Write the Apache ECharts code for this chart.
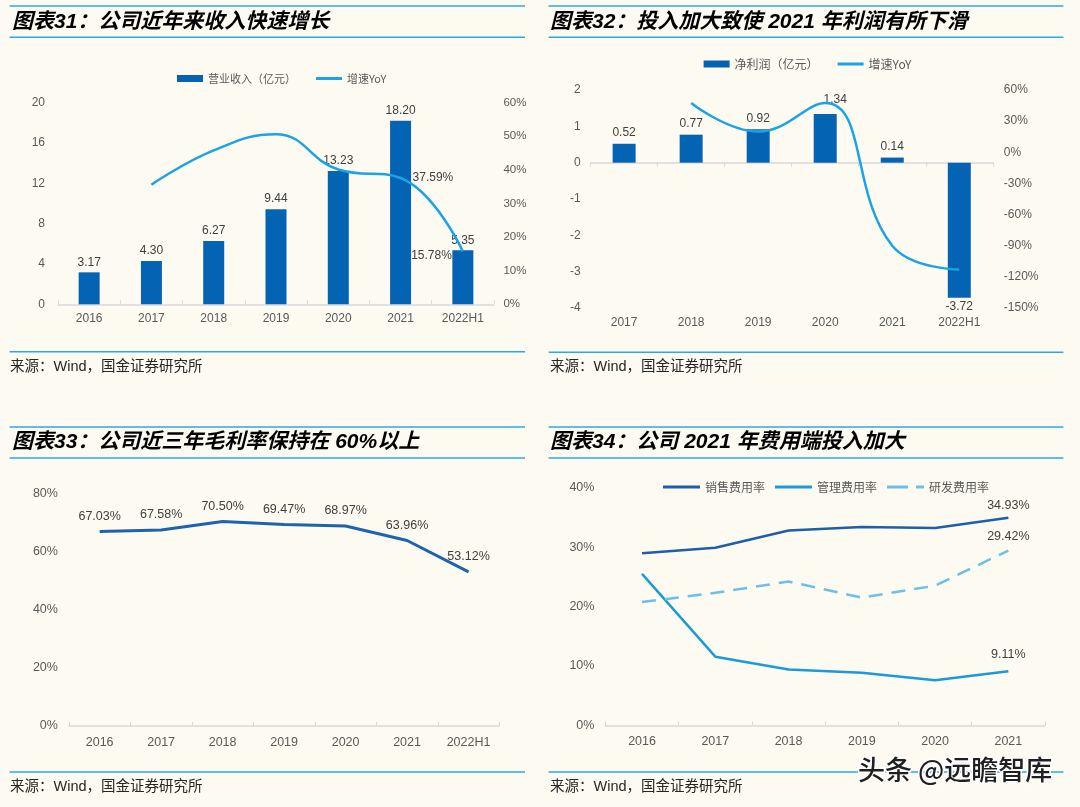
<!DOCTYPE html>
<html><head><meta charset="utf-8">
<script src="https://cdn.jsdelivr.net/npm/echarts/dist/echarts.min.js"></script>
<style>html,body{margin:0;padding:0;background:#FDFAF1}#c{width:1080px;height:807px}</style>
</head><body><div id="c"></div>
<script>
// ---------- data ----------
const revCats = ['2016','2017','2018','2019','2020','2021','2022H1'];
const revenue = [3.17, 4.30, 6.27, 9.44, 13.23, 18.20, 5.35];
const revYoy = [null, 35.6, 45.8, 50.6, 40.1, 37.59, 15.78];

const profitCats = ['2017','2018','2019','2020','2021','2022H1'];
const profit = [0.52, 0.77, 0.92, 1.34, 0.14, -3.72];
const profitYoy = [null, 47.5, 20, 47.5, -90, -113];

const grossCats = ['2016','2017','2018','2019','2020','2021','2022H1'];
const grossMargin = [67.03, 67.58, 70.50, 69.47, 68.97, 63.96, 53.12];

const costCats = ['2016','2017','2018','2019','2020','2021'];
const salesRate = [28.95, 29.9, 32.8, 33.4, 33.2, 34.93];
const adminRate = [25.5, 11.55, 9.4, 8.85, 7.6, 9.11];
const rdRate = [20.75, 22.3, 24.2, 21.5, 23.5, 29.42];

const titleTexts = ['图表31：公司近年来收入快速增长', '图表32：投入加大致使 2021 年利润有所下滑',
                    '图表33：公司近三年毛利率保持在 60%以上', '图表34：公司 2021 年费用端投入加大'];
const sourceText = '来源：Wind，国金证券研究所';
const watermark = '头条 @远瞻智库';

// ---------- styles ----------
const BG = '#FDFAF1';
const RULE = '#29A9E6';
const BAR = '#0563B3';
const LIGHT = '#1AA3E6';
const NUMF = '"Liberation Sans", Arial, "Noto Sans CJK SC", sans-serif';
const axisGray = '#595959';
const lblGray = '#404040';

function xAx(grid, data, size, margin, extra) {
  return Object.assign({
    type: 'category', gridIndex: grid, data: data,
    axisLine: { show: true, lineStyle: { color: '#D9D9D9', width: 1.5 } },
    axisTick: { show: true, inside: true, length: 4, lineStyle: { color: '#D9D9D9' } },
    axisLabel: { color: axisGray, fontSize: size, fontFamily: NUMF, margin: margin, interval: 0 },
    splitLine: { show: false }
  }, extra || {});
}
function yAx(grid, min, max, interval, size, margin, fmt, pos) {
  return {
    type: 'value', gridIndex: grid, min: min, max: max, interval: interval, position: pos || 'left',
    axisLine: { show: false }, axisTick: { show: false }, splitLine: { show: false },
    axisLabel: { color: axisGray, fontSize: size, fontFamily: NUMF, margin: margin, formatter: fmt || '{value}' }
  };
}
const barIcon = 'path://M0,0H26V7H0Z';
const lineIcon = 'path://M0,0L0.01,0L0,0.01ZM0,2H26V5H0ZM0,7L0.01,7L0,6.99Z';
const solidIcon = 'path://M0,0H37V3H0Z';
const dashIcon = 'path://M0,0H21V3H0ZM29,0H37V3H29Z';

const chart = echarts.init(document.getElementById('c'), null, { renderer: 'canvas' });

const rules = [
  [9.6, 6, 525, 6], [9.6, 37.3, 525, 37.3], [9.6, 351.7, 525, 351.7],
  [548.6, 6, 1063.4, 6], [548.6, 37.3, 1063.4, 37.3], [548.6, 352.3, 1063.4, 352.3],
  [9.6, 427, 525, 427], [9.6, 458, 525, 458], [9.6, 772, 525, 772],
  [548.6, 427, 1063.4, 427], [548.6, 458, 1063.4, 458], [548.6, 772, 1063.4, 772]
];
const graphics = rules.map(r => ({ type: 'line', silent: true, shape: { x1: r[0], y1: r[1], x2: r[2], y2: r[3] }, style: { stroke: RULE, lineWidth: 1.5 } }));
const titlePos = [[12, 22], [550, 22], [12, 442.5], [550, 442.5]];
titleTexts.forEach((t, i) => graphics.push({ type: 'text', x: titlePos[i][0], y: titlePos[i][1], silent: true,
  style: { text: t, fill: '#000', font: 'italic bold 21px "Liberation Sans", "Noto Sans CJK SC", sans-serif', verticalAlign: 'middle', align: 'left' } }));
[[10, 367], [550, 367], [10, 787], [550, 787]].forEach(p => graphics.push({ type: 'text', x: p[0], y: p[1], silent: true,
  style: { text: sourceText, fill: '#262626', font: '14.5px "Liberation Sans", "Noto Sans CJK SC", sans-serif', verticalAlign: 'middle' } }));
graphics.push({ type: 'text', x: 858, y: 770, silent: true, z: 100,
  style: { text: watermark, fill: '#1f1f1f', stroke: '#ffffff', lineWidth: 3, strokeFirst: true,
    font: '500 27px "Noto Sans CJK SC", sans-serif', verticalAlign: 'middle' } });

const numLabel = (size) => ({ color: lblGray, fontSize: size, fontFamily: NUMF });

const option = {
  backgroundColor: BG,
  animation: false,
  grid: [
    { left: 58, top: 102.7, width: 436, height: 201.6, outerBoundsMode: 'none', containLabel: false },
    { left: 590.6, top: 90, width: 402.2, height: 218, outerBoundsMode: 'none', containLabel: false },
    { left: 68.9, top: 494, width: 430.4, height: 232, outerBoundsMode: 'none', containLabel: false },
    { left: 605.4, top: 487.7, width: 439.6, height: 237.6, outerBoundsMode: 'none', containLabel: false }
  ],
  legend: [
    { left: 177, top: 73, padding: 0, itemWidth: 26, itemHeight: 7, itemGap: 20, selectedMode: false,
      textStyle: { fontSize: 11, color: axisGray, fontFamily: '"Noto Sans CJK SC", sans-serif' },
      data: [{ name: '营业收入（亿元）', icon: barIcon }, { name: '增速YoY', icon: lineIcon }] },
    { left: 703.6, top: 58, padding: 0, itemWidth: 26, itemHeight: 7, itemGap: 19, selectedMode: false,
      textStyle: { fontSize: 12, color: axisGray, fontFamily: '"Noto Sans CJK SC", sans-serif' },
      data: [{ name: '净利润（亿元）', icon: barIcon }, { name: '增速YoY', icon: lineIcon }] },
    { left: 663, top: 481, padding: 0, itemWidth: 37, itemHeight: 3, itemGap: 10, selectedMode: false,
      textStyle: { fontSize: 12, color: axisGray, fontFamily: '"Noto Sans CJK SC", sans-serif' },
      data: [{ name: '销售费用率', icon: solidIcon }, { name: '管理费用率', icon: solidIcon }, { name: '研发费用率', icon: dashIcon }] }
  ],
  xAxis: [
    xAx(0, revCats, 12, 8),
    xAx(1, profitCats, 12, 9, { axisLine: { show: false, onZero: false }, axisTick: { show: false } }),
    xAx(1, profitCats, 12, 9, { position: 'top', axisLabel: { show: false },
      axisLine: { show: true, onZero: true, onZeroAxisIndex: 2, lineStyle: { color: '#D9D9D9', width: 1.5 } } }),
    xAx(2, grossCats, 12.5, 10),
    xAx(3, costCats, 12.5, 10)
  ],
  yAxis: [
    yAx(0, 0, 20, 4, 12, 13),
    yAx(0, 0, 60, 10, 11.5, 9.4, '{value}%', 'right'),
    yAx(1, -4, 2, 1, 12, 10),
    yAx(1, -150, 60, 30, 12, 11, '{value}%', 'right'),
    yAx(2, 0, 80, 20, 12.5, 11, '{value}%'),
    yAx(3, 0, 40, 10, 12.5, 11, '{value}%')
  ],
  series: [
    { type: 'bar', name: '营业收入（亿元）', xAxisIndex: 0, yAxisIndex: 0, barWidth: 21,
      itemStyle: { color: BAR }, data: revenue,
      label: Object.assign({ show: true, position: 'top', distance: 4, formatter: p => p.value.toFixed(2) }, numLabel(12)) },
    { type: 'line', name: '增速YoY', xAxisIndex: 0, yAxisIndex: 1, smooth: 0.45, symbol: 'circle', symbolSize: 0.01, showSymbol: true,
      lineStyle: { color: LIGHT, width: 2.5 }, itemStyle: { color: LIGHT },
      label: Object.assign({ show: false, formatter: p => p.value.toFixed(2) + '%' }, numLabel(12)),
      data: revYoy.map((v, i) => i === 5 ? { value: v, label: { show: true, position: 'right', distance: 12 } }
                                : i === 6 ? { value: v, label: { show: true, position: 'left', distance: 11, offset: [0, 4] } } : v) },
    { type: 'bar', name: '净利润（亿元）', xAxisIndex: 1, yAxisIndex: 2, barWidth: 23,
      itemStyle: { color: BAR },
      label: Object.assign({ show: true, position: 'top', distance: 5, formatter: p => p.value.toFixed(2) }, numLabel(12)),
      data: profit.map((v, i) => i === 3 ? { value: v, label: { offset: [10, -3] } }
                                : v < 0 ? { value: v, label: { position: 'bottom', distance: 3 } } : v) },
    { type: 'line', name: '增速YoY', xAxisIndex: 1, yAxisIndex: 3, smooth: 0.45, symbol: 'none',
      lineStyle: { color: LIGHT, width: 2.5 }, itemStyle: { color: LIGHT }, data: profitYoy },
    { type: 'line', name: '毛利率', xAxisIndex: 3, yAxisIndex: 4, symbol: 'circle', symbolSize: 0.01, showSymbol: true,
      lineStyle: { color: '#1E64AC', width: 3 }, itemStyle: { color: '#1E64AC' },
      label: Object.assign({ show: true, position: 'top', distance: 9, formatter: p => p.value.toFixed(2) + '%' }, numLabel(12.5)),
      data: grossMargin },
    { type: 'line', name: '销售费用率', xAxisIndex: 4, yAxisIndex: 5, symbol: 'circle', symbolSize: 0.01, showSymbol: true,
      lineStyle: { color: '#1D5FA8', width: 2.5 }, itemStyle: { color: '#1D5FA8' },
      label: Object.assign({ show: false, formatter: p => p.value.toFixed(2) + '%' }, numLabel(12.5)),
      data: salesRate.map((v, i) => i === salesRate.length - 1 ? { value: v, label: { show: true, position: 'top', distance: 6 } } : v) },
    { type: 'line', name: '管理费用率', xAxisIndex: 4, yAxisIndex: 5, symbol: 'circle', symbolSize: 0.01, showSymbol: true,
      lineStyle: { color: '#1A9BD7', width: 2.5 }, itemStyle: { color: '#1A9BD7' },
      label: Object.assign({ show: false, formatter: p => p.value.toFixed(2) + '%' }, numLabel(12.5)),
      data: adminRate.map((v, i) => i === adminRate.length - 1 ? { value: v, label: { show: true, position: 'top', distance: 10 } } : v) },
    { type: 'line', name: '研发费用率', xAxisIndex: 4, yAxisIndex: 5, symbol: 'circle', symbolSize: 0.01, showSymbol: true,
      lineStyle: { color: '#6DBFEA', width: 2.5, type: [14, 9] }, itemStyle: { color: '#6DBFEA' },
      label: Object.assign({ show: false, formatter: p => p.value.toFixed(2) + '%' }, numLabel(12.5)),
      data: rdRate.map((v, i) => i === rdRate.length - 1 ? { value: v, label: { show: true, position: 'top', distance: 8 } } : v) }
  ],
  graphic: graphics
};
chart.setOption(option);
</script>
</body></html>
